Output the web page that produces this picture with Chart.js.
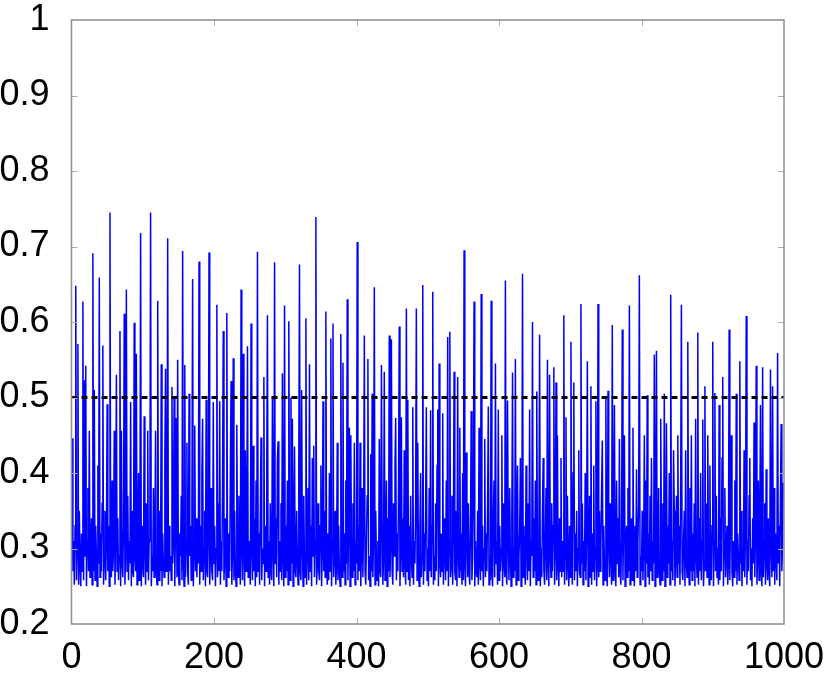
<!DOCTYPE html>
<html lang="en">
<head>
  <meta charset="UTF-8">
  <title>Signal</title>
  <script src="https://cdn.jsdelivr.net/npm/chart.js"></script>
  <style>
    html, body { margin: 0; padding: 0; background: #fff; }
    #wrap { width: 831px; height: 674px; }
  </style>
</head>
<body>
  <div id="wrap"><canvas id="chart" width="831" height="674"></canvas></div>

  <script>
    // one value per sample, x = 0 .. 999 (ten per row)
    const signal = [
      .36,.446,.27,.31,.252,.33,.648,.258,.30,.571,
      .252,.35,.28,.25,.32,.27,.627,.258,.523,.29,
      .542,.25,.31,.38,.27,.456,.262,.30,.34,.252,
      .691,.27,.510,.258,.33,.29,.25,.41,.28,.659,
      .262,.32,.27,.36,.569,.252,.29,.35,.258,.31,
      .491,.27,.33,.25,.745,.28,.262,.39,.27,.30,
      .456,.252,.31,.530,.27,.34,.258,.29,.588,.25,
      .456,.28,.262,.33,.611,.252,.30,.643,.27,.37,
      .258,.31,.28,.494,.25,.35,.27,.262,.599,.29,
      .27,.558,.252,.32,.40,.258,.29,.718,.25,.33,
      .28,.262,.475,.30,.252,.36,.27,.456,.258,.31,
      .34,.745,.25,.29,.27,.38,.262,.31,.456,.27,
      .252,.628,.30,.258,.35,.27,.544,.25,.32,.28,
      .262,.42,.538,.27,.30,.711,.252,.33,.27,.29,
      .258,.514,.28,.31,.50,.25,.34,.473,.262,.550,
      .27,.252,.32,.29,.37,.258,.694,.28,.25,.543,
      .262,.31,.44,.27,.252,.505,.29,.33,.258,.36,
      .657,.25,.30,.463,.27,.34,.262,.31,.28,.680,
      .252,.33,.27,.40,.472,.258,.30,.35,.25,.497,
      .27,.262,.32,.692,.252,.29,.38,.27,.258,.494,
      .28,.33,.25,.30,.623,.262,.36,.27,.495,.252,
      .31,.27,.39,.588,.258,.29,.34,.25,.612,.28,
      .262,.32,.27,.41,.522,.252,.30,.552,.258,.35,
      .27,.25,.464,.31,.262,.37,.28,.252,.643,.30,
      .258,.558,.29,.25,.43,.27,.33,.568,.262,.31,
      .28,.252,.598,.30,.258,.436,.27,.34,.25,.39,
      .262,.693,.27,.32,.252,.35,.447,.258,.30,.28,
      .527,.25,.33,.27,.40,.609,.262,.31,.252,.36,
      .27,.258,.50,.30,.25,.679,.28,.34,.262,.42,
      .442,.252,.31,.27,.36,.258,.532,.29,.25,.622,
      .262,.33,.27,.39,.252,.601,.30,.258,.50,.28,
      .472,.25,.32,.435,.27,.262,.35,.29,.252,.41,
      .676,.27,.258,.51,.31,.25,.37,.28,.262,.605,
      .252,.30,.38,.258,.544,.27,.33,.25,.42,.29,
      .436,.262,.31,.739,.252,.28,.36,.27,.258,.33,
      .41,.25,.30,.495,.27,.35,.262,.614,.28,.252,
      .32,.258,.40,.27,.578,.25,.31,.598,.262,.29,
      .35,.252,.28,.44,.258,.33,.27,.25,.584,.30,
      .262,.546,.27,.32,.252,.39,.28,.630,.258,.34,
      .46,.25,.45,.29,.262,.36,.27,.44,.252,.31,
      .28,.706,.258,.33,.27,.44,.25,.30,.38,.262,
      .34,.582,.27,.252,.31,.37,.551,.258,.29,.25,
      .425,.27,.505,.262,.32,.646,.252,.35,.28,.258,
      .31,.25,.445,.27,.262,.543,.33,.252,.29,.534,
      .258,.30,.39,.25,.34,.27,.582,.262,.31,.577,
      .27,.252,.36,.29,.41,.473,.258,.32,.27,.38,
      .594,.25,.30,.474,.27,.34,.262,.43,.28,.252,
      .618,.27,.497,.258,.33,.25,.37,.29,.262,.487,
      .252,.31,.28,.36,.618,.258,.44,.27,.25,.33,
      .40,.262,.29,.649,.252,.32,.27,.35,.487,.258,
      .30,.25,.38,.27,.483,.262,.33,.640,.252,.29,
      .258,.36,.27,.41,.484,.25,.545,.28,.262,.32,
      .27,.479,.252,.34,.30,.258,.39,.27,.58,.25,
      .31,.587,.262,.28,.37,.252,.33,.534,.27,.258,
      .35,.25,.527,.29,.262,.46,.27,.32,.252,.40,
      .258,.695,.28,.25,.427,.31,.262,.36,.27,.252,
      .33,.482,.258,.29,.38,.627,.25,.31,.27,.262,
      .35,.252,.46,.28,.258,.637,.27,.33,.25,.30,
      .445,.262,.32,.27,.36,.488,.252,.29,.258,.628,
      .27,.25,.34,.39,.262,.545,.28,.31,.252,.484,
      .258,.33,.27,.30,.45,.25,.36,.28,.262,.655,
      .27,.252,.496,.31,.258,.38,.29,.25,.34,.533,
      .262,.30,.27,.551,.252,.35,.41,.258,.29,.32,
      .42,.25,.28,.664,.262,.33,.27,.252,.41,.30,
      .258,.36,.27,.484,.25,.31,.29,.600,.262,.34,
      .27,.39,.252,.508,.28,.258,.32,.583,.25,.30,
      .262,.35,.42,.27,.252,.31,.38,.258,.55,.28,
      .25,.53,.29,.262,.36,.27,.33,.54,.252,.30,
      .52,.258,.45,.28,.25,.34,.27,.42,.262,.31,
      .27,.609,.252,.30,.474,.258,.37,.28,.25,.33,
      .262,.574,.29,.252,.40,.52,.258,.32,.27,.35,
      .25,.30,.43,.27,.262,.624,.28,.36,.252,.31,
      .27,.40,.258,.33,.548,.25,.29,.37,.262,.515,
      .252,.32,.27,.41,.258,.30,.495,.25,.28,.624,
      .262,.35,.27,.30,.38,.443,.252,.33,.28,.258,
      .50,.27,.25,.509,.31,.262,.36,.29,.252,.596,
      .258,.32,.49,.27,.25,.39,.28,.34,.262,.445,
      .27,.252,.31,.590,.258,.35,.45,.25,.29,.33,
      .262,.38,.27,.622,.252,.30,.34,.258,.46,.28,
      .25,.33,.27,.405,.262,.31,.36,.662,.252,.29,
      .27,.35,.258,.30,.45,.25,.39,.28,.503,.262,
      .32,.252,.37,.27,.42,.258,.31,.28,.557,.25,
      .34,.562,.262,.29,.38,.27,.252,.472,.31,.258,
      .36,.27,.505,.25,.30,.466,.262,.33,.28,.40,
      .252,.636,.27,.31,.258,.43,.35,.25,.29,.37,
      .262,.45,.28,.33,.252,.39,.623,.27,.258,.31,
      .35,.25,.43,.28,.262,.574,.30,.252,.38,.27,
      .45,.258,.32,.27,.36,.25,.472,.29,.262,.586,
      .252,.34,.27,.40,.258,.31,.471,.25,.28,.515,
      .27,.36,.262,.45,.30,.252,.41,.28,.258,.33,
      .574,.25,.31,.506,.27,.37,.262,.30,.252,.49,
      .258,.34,.27,.42,.527,.25,.31,.38,.262,.29,
      .33,.252,.28,.590,.258,.36,.45,.27,.25,.31,
      .262,.39,.27,.505,.252,.32,.29,.258,.548,.28,
      .35,.25,.30,.27,.43,.262,.33,.608,.252,.31,
      .27,.37,.42,.258,.30,.25,.34,.28,.467,.262,
      .32,.542,.252,.29,.39,.258,.33,.49,.27,.25,
      .540,.262,.31,.36,.252,.405,.28,.258,.34,.27,
      .25,.537,.30,.262,.515,.27,.38,.252,.32,.29,
      .258,.559,.28,.33,.25,.37,.465,.27,.31,.387
    ];
    const threshold = 0.5;
    const xTicks = [0, 200, 400, 600, 800, 1000];
    const yTicks = [0.2, 0.3, 0.4, 0.5, 0.6, 0.7, 0.8, 0.9, 1];

    const points = signal.map((v, i) => ({ x: i, y: v }));
    const thresholdLine = [{ x: xTicks[0], y: threshold }, { x: xTicks[xTicks.length - 1], y: threshold }];

    // frame with small inward tick marks
    const framePlugin = {
      id: 'frame',
      afterDraw(chart) {
        const c = chart.ctx, a = chart.chartArea;
        const sx = chart.scales.x, sy = chart.scales.y;
        c.save();
        c.strokeStyle = '#b0b0b0';
        c.lineWidth = 1;
        yTicks.slice(1, -1).forEach(t => {
          const py = Math.round(sy.getPixelForValue(t)) + 0.5;
          c.beginPath();
          c.moveTo(a.left, py); c.lineTo(a.left + 6, py);
          c.moveTo(a.right, py); c.lineTo(a.right - 6, py);
          c.stroke();
        });
        xTicks.slice(1, -1).forEach(t => {
          const px = Math.round(sx.getPixelForValue(t)) + 0.5;
          c.beginPath();
          c.moveTo(px, a.bottom); c.lineTo(px, a.bottom - 6);
          c.moveTo(px, a.top); c.lineTo(px, a.top + 6);
          c.stroke();
        });
        c.strokeStyle = '#8c8c8c';
        c.lineWidth = 1.5;
        c.strokeRect(a.left, a.top, a.right - a.left, a.bottom - a.top);
        c.restore();
      }
    };

    const tickFont = { family: '"Liberation Sans", Arial, sans-serif', size: 36 };

    new Chart(document.getElementById('chart').getContext('2d'), {
      type: 'line',
      data: {
        datasets: [{
          data: thresholdLine,
          borderColor: '#000000',
          borderWidth: 3,
          borderDash: [6, 4],
          pointRadius: 0,
          fill: false
        }, {
          data: points,
          borderColor: '#0000ff',
          borderWidth: 1.5,
          pointRadius: 0,
          tension: 0,
          fill: false
        }]
      },
      options: {
        responsive: false,
        animation: false,
        events: [],
        layout: { padding: { top: 20, right: 47, left: 0, bottom: 0 } },
        plugins: { legend: { display: false }, tooltip: { enabled: false } },
        scales: {
          x: {
            type: 'linear',
            min: 0, max: 1000,
            afterFit: s => { s.height = 50; s.paddingLeft = 0; s.paddingRight = 0; },
            afterBuildTicks: s => { s.ticks = xTicks.map(v => ({ value: v })); },
            grid: { display: false },
            border: { display: false },
            ticks: { color: '#000', font: tickFont, padding: 4, maxRotation: 0, callback: v => String(v) }
          },
          y: {
            min: 0.2, max: 1,
            afterFit: s => { s.width = 71.5; s.paddingTop = 0; s.paddingBottom = 0; },
            afterBuildTicks: s => { s.ticks = yTicks.map(v => ({ value: v })); },
            grid: { display: false },
            border: { display: false },
            ticks: {
              color: '#000', font: tickFont, padding: 14,
              callback: v => String(+v.toFixed(1))
            }
          }
        }
      },
      plugins: [framePlugin]
    });
  </script>
</body>
</html>
